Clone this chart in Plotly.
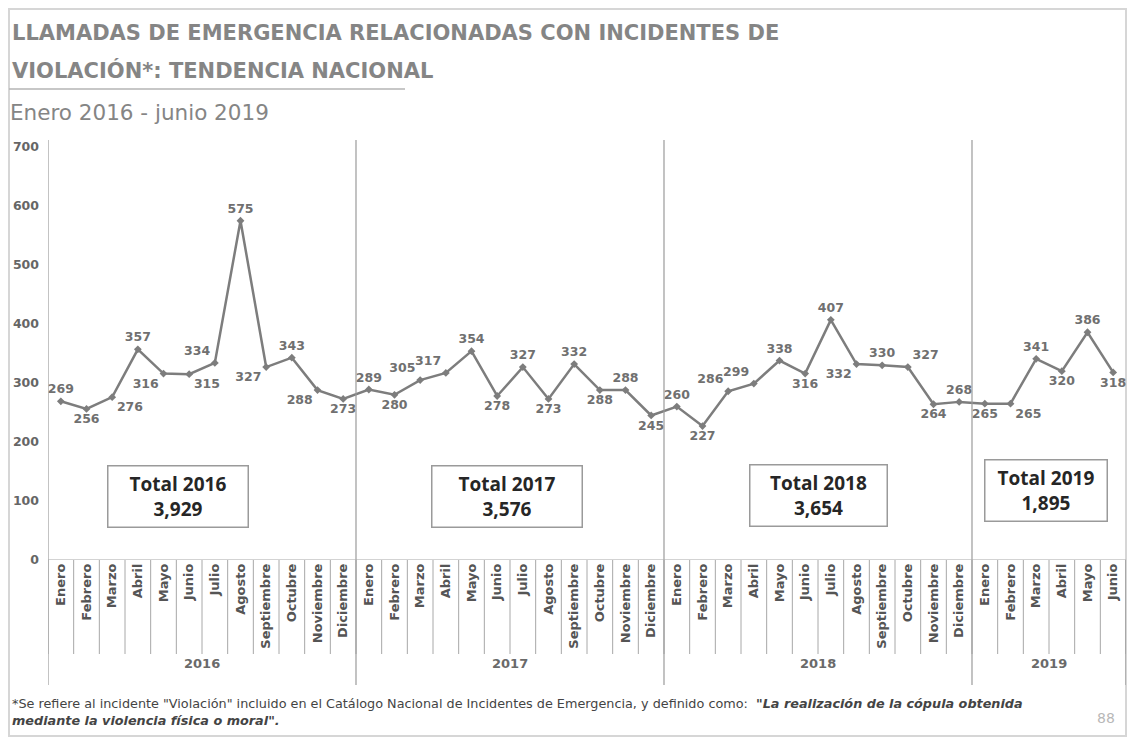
import plotly.graph_objects as go

years = ["2016", "2017", "2018", "2019"]
months = ["Enero", "Febrero", "Marzo", "Abril", "Mayo", "Junio", "Julio",
          "Agosto", "Septiembre", "Octubre", "Noviembre", "Diciembre"]

calls_2016 = [269, 256, 276, 357, 316, 315, 334, 575, 327, 343, 288, 273]
calls_2017 = [289, 280, 305, 317, 354, 278, 327, 273, 332, 288, 288, 245]
calls_2018 = [260, 227, 286, 299, 338, 316, 407, 332, 330, 327, 264, 268]
calls_2019 = [265, 265, 341, 320, 386, 318]

# label placement for each point
pos_2016 = ["top center", "bottom center", "bottom right", "top center", "bottom left", "bottom right",
            "top left", "top center", "bottom left", "top center", "bottom left", "bottom center"]
pos_2017 = ["top center", "bottom center", "top left", "top left", "top center", "bottom center",
            "top center", "bottom center", "top center", "bottom center", "top center", "bottom center"]
pos_2018 = ["top center", "bottom center", "top left", "top left", "top center", "bottom center",
            "top center", "bottom left", "top center", "top right", "bottom center", "top center"]
pos_2019 = ["bottom center", "bottom right", "top center", "bottom center", "top center", "bottom center"]

series = [calls_2016, calls_2017, calls_2018, calls_2019]
values = calls_2016 + calls_2017 + calls_2018 + calls_2019
positions = pos_2016 + pos_2017 + pos_2018 + pos_2019
month_labels = [months[i] for s in series for i in range(len(s))]
x = [i + 0.5 for i in range(len(values))]
n = len(values)

# page geometry in window pixels (the page body adds an 8px margin)
OFF = 8
W, H = 1119, 730
L, R, T, B = 48, 1126, 147, 560


def px(v):
    return (v - L) / (R - L)


def py(v):
    return (B - v) / (B - T)


GRAY = "#7d7d7d"
FONT = "DejaVu Sans"

fig = go.Figure()
fig.add_trace(go.Scatter(
    x=x, y=values, mode="lines+markers+text",
    line=dict(color=GRAY, width=2.5),
    marker=dict(symbol="diamond", size=6, color=GRAY),
    text=[str(v) for v in values], textposition=positions,
    textfont=dict(family=FONT, size=12.5, color="#707070", weight="bold"),
    cliponaxis=False, hoverinfo="skip", showlegend=False,
))

shapes = []
# outer frame
shapes.append(dict(type="rect", xref="paper", yref="paper", x0=px(9), x1=px(1126), y0=py(736), y1=py(9),
                   line=dict(color="#d6d6d6", width=2), layer="below"))
# rule under title
shapes.append(dict(type="line", xref="paper", yref="paper", x0=px(9), x1=px(405), y0=py(89), y1=py(89),
                   line=dict(color="#b5b5b5", width=1.5)))
# month separators below the axis
for i in range(n + 1):
    shapes.append(dict(type="line", xref="x", yref="paper", x0=i, x1=i, y0=0, y1=py(654),
                       line=dict(color="#a8a8a8", width=1)))
# year separators
start = 0
bounds = [0]
for s in series:
    start += len(s)
    bounds.append(start)
for b in bounds:
    top = py(140) if b < n else 0
    shapes.append(dict(type="line", xref="x", yref="paper", x0=b, x1=b, y0=top, y1=py(685),
                       line=dict(color="#9a9a9a", width=1.2)))
# zero line
shapes.append(dict(type="line", xref="x", yref="y", x0=0, x1=n, y0=0, y1=0,
                   line=dict(color="#a8a8a8", width=1.2)))

annotations = []
# year labels
for k, yr in enumerate(years):
    annotations.append(dict(x=(bounds[k] + bounds[k + 1]) / 2, y=py(673), xref="x", yref="paper",
                            text="<b>%s</b>" % yr, showarrow=False,
                            font=dict(family=FONT, size=13, color="#6a6a6a")))

# total boxes
box_x = [5.06, 17.88, 30.0, 38.88]
box_y = [108, 108, 110, 117]
box_w = [129, 139, 126, 111]
for k, yr in enumerate(years):
    annotations.append(dict(
        x=box_x[k], y=box_y[k], xref="x", yref="y", showarrow=False,
        text="<b>Total %s<br>%s</b>" % (yr, format(sum(series[k]), ",")),
        font=dict(family="Open Sans", size=19, color="#262626"),
        bordercolor="#9a9a9a", borderwidth=1.5, borderpad=5, bgcolor="white",
        width=box_w[k], height=50,
    ))

# title block
annotations += [
    dict(x=px(10), y=py(33), xref="paper", yref="paper", xanchor="left", yanchor="middle", showarrow=False,
         text="<b>LLAMADAS DE EMERGENCIA RELACIONADAS CON INCIDENTES DE</b>",
         font=dict(family=FONT, size=21, color="#858585")),
    dict(x=px(10), y=py(70), xref="paper", yref="paper", xanchor="left", yanchor="middle", showarrow=False,
         text="<b>VIOLACIÓN*: TENDENCIA NACIONAL</b>",
         font=dict(family=FONT, size=21, color="#858585")),
    dict(x=px(8), y=py(112), xref="paper", yref="paper", xanchor="left", yanchor="middle", showarrow=False,
         text="Enero 2016 - junio 2019",
         font=dict(family=FONT, size=21.5, color="#858585")),
    dict(x=px(10), y=py(712), xref="paper", yref="paper", xanchor="left", yanchor="middle", showarrow=False,
         align="left",
         text="*Se refiere al incidente \"Violación\" incluido en el Catálogo Nacional de Incidentes de Emergencia, "
              "y definido como:  <b><i>\"La realización de la cópula obtenida<br>mediante la violencia física o moral\".</i></b>",
         font=dict(family=FONT, size=12.8, color="#444444")),
    dict(x=px(1117), y=py(718), xref="paper", yref="paper", xanchor="right", yanchor="middle", showarrow=False,
         text="88", font=dict(family=FONT, size=14, color="#b8b8b8")),
]

fig.update_layout(
    width=W, height=H,
    margin=dict(l=L - OFF, r=(OFF + W) - R, t=T - OFF, b=(OFF + H) - B),
    paper_bgcolor="white", plot_bgcolor="white",
    font=dict(family=FONT),
    xaxis=dict(range=[0, n], tickmode="array", tickvals=x, ticktext=month_labels, tickangle=-90,
               showgrid=False, zeroline=False, showline=False, ticks="",
               tickfont=dict(family=FONT, size=13, color="#555555", weight="bold")),
    yaxis=dict(range=[0, 700], dtick=100, showgrid=False, zeroline=False, showline=False, ticks="",
               ticklabelstandoff=8,
               tickfont=dict(family=FONT, size=12.5, color="#666666", weight="bold")),
    shapes=shapes, annotations=annotations,
)

fig.write_html("out.html")
